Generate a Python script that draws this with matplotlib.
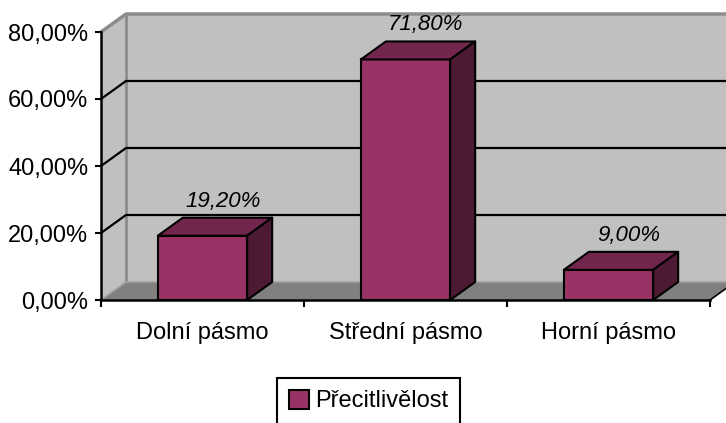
import matplotlib
matplotlib.use("Agg")
import matplotlib.pyplot as plt
from matplotlib.patches import Polygon

# ----- data -----
categories = ["Dolní pásmo", "Střední pásmo", "Horní pásmo"]
values = [19.2, 71.8, 9.0]
series_name = "Přecitlivělost"
yticks = [0, 20, 40, 60, 80]

# ----- style -----
plt.rcParams["font.family"] = ["Liberation Sans", "DejaVu Sans"]
c_front = "#993366"
c_top = "#73264d"
c_side = "#4d1a33"
c_wall = "#c0c0c0"
c_floor = "#808080"

W, H = 726, 423
fig = plt.figure(figsize=(W / 100, H / 100), dpi=100)
ax = fig.add_axes([101 / W, (H - 300) / H, 609 / W, 268 / H])
ax.set_xlim(-0.5, 2.5)
ax.set_ylim(0, 80)

# 3d depth offset in data units (25 px right, 18 px up)
dx = 25 / 203
dy = 18 / 3.35
bw = 0.44
xr = 2.5 + dx + 0.4

# back wall, side wall and floor
ax.add_patch(Polygon([(-0.5 + dx, dy), (xr, dy), (xr, 80 + dy), (-0.5 + dx, 80 + dy)],
                     closed=True, fc=c_wall, ec="none", clip_on=False, zorder=0))
ax.add_patch(Polygon([(-0.5, 0), (-0.5 + dx, dy), (-0.5 + dx, 80 + dy), (-0.5, 80)],
                     closed=True, fc=c_wall, ec="none", clip_on=False, zorder=0))
ax.add_patch(Polygon([(-0.5, 0), (2.5, 0), (2.5 + dx, dy), (-0.5 + dx, dy)],
                     closed=True, fc=c_floor, ec="none", clip_on=False, zorder=1))
ax.plot([-0.5, -0.5 + dx, xr], [80, 80 + dy, 80 + dy], color="#8c8c8c", lw=2.5,
        clip_on=False, zorder=1, solid_capstyle="butt")
ax.plot([-0.5 + dx, -0.5 + dx], [dy, 80 + dy], color="#8c8c8c", lw=2,
        clip_on=False, zorder=1)
ax.plot([-0.5, -0.5 + dx, xr], [0, dy, dy], color="#a0a0a0", lw=1.2,
        clip_on=False, zorder=1)
ax.plot([2.5, 2.5 + dx], [0, dy], color="black", lw=1.2, clip_on=False, zorder=2)

# gridlines on walls
for v in yticks[1:-1]:
    ax.plot([-0.5, -0.5 + dx, xr], [v, v + dy, v + dy], color="black", lw=1.6,
            clip_on=False, zorder=2)

# bars
x = list(range(len(categories)))
bars = ax.bar(x, values, width=bw, color=c_front, edgecolor="black", lw=1.5,
              zorder=5, label=series_name)
for xi, v in zip(x, values):
    l, r = xi - bw / 2, xi + bw / 2
    ax.add_patch(Polygon([(l, v), (l + dx, v + dy), (r + dx, v + dy), (r, v)],
                         closed=True, fc=c_top, ec="black", lw=1.5, zorder=5,
                         clip_on=False, joinstyle="round"))
    ax.add_patch(Polygon([(r, 0), (r, v), (r + dx, v + dy), (r + dx, dy)],
                         closed=True, fc=c_side, ec="black", lw=1.5, zorder=5,
                         clip_on=False, joinstyle="round"))
    lbl = f"{v:.2f}".replace(".", ",") + "%"
    ax.annotate(lbl, xy=(xi + 0.1, v + dy), xytext=(0, 12), textcoords="offset points",
                ha="center", va="center", fontsize=16, style="italic", zorder=6,
                annotation_clip=False)

# axes
for s in ["top", "right"]:
    ax.spines[s].set_visible(False)
ax.spines["left"].set_linewidth(1.8)
ax.spines["bottom"].set_linewidth(1.8)
ax.spines["left"].set_zorder(7)
ax.spines["bottom"].set_zorder(7)
ax.set_yticks(yticks)
ax.set_yticklabels([f"{t:.2f}".replace(".", ",") + "%" for t in yticks], fontsize=17)
ax.tick_params(axis="y", length=4, width=1.5, pad=5)
ax.set_xticks(x)
ax.set_xticklabels(categories, fontsize=17)
ax.set_xticks([-0.5, 0.5, 1.5, 2.5], minor=True)
ax.tick_params(axis="x", which="major", length=0, pad=16)
ax.tick_params(axis="x", which="minor", length=5, width=1.5)

# legend
leg = fig.legend(handles=[bars], labels=[series_name], loc="upper left",
                 bbox_to_anchor=(277 / W, 1 - 378 / H), fontsize=17,
                 fancybox=False, edgecolor="black", framealpha=1,
                 handlelength=0.85, handleheight=0.85, handletextpad=0.25,
                 borderpad=0.5, borderaxespad=0)
leg.get_frame().set_linewidth(1.5)

fig.savefig("out.png", dpi=100)
